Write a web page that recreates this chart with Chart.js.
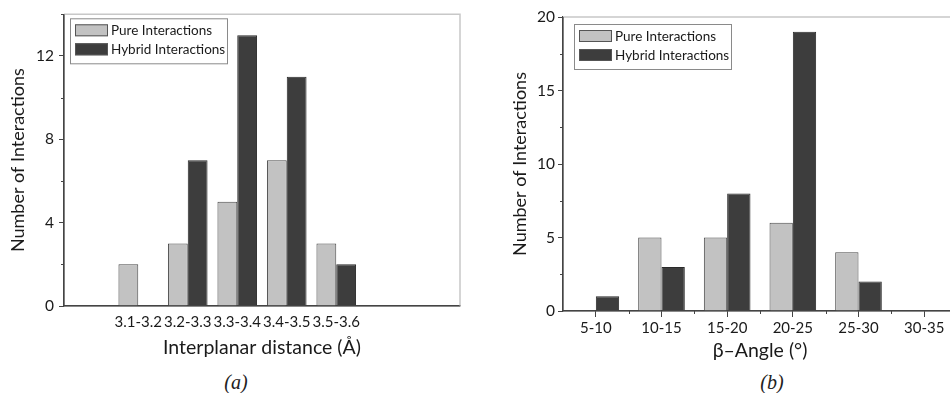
<!DOCTYPE html>
<html>
<head>
<meta charset="utf-8">
<script src="https://cdn.jsdelivr.net/npm/chart.js@4.4.1/dist/chart.umd.min.js"></script>
<style>
  html, body { margin: 0; padding: 0; background: #fff; width: 950px; height: 393px; overflow: hidden; }
  .panel { position: absolute; top: 0; }
  #panelA { left: 0; width: 475px; height: 362px; }
  #panelB { left: 475px; width: 490px; height: 362px; }
  .caption { position: absolute; top: 371px; width: 60px; margin-left: -30px; text-align: center;
    font-family: "Liberation Serif", "DejaVu Serif", serif; font-style: italic; font-size: 20px; color: #222; }
</style>
</head>
<body>
<div class="panel" id="panelA"><canvas id="chartA" width="475" height="362"></canvas></div>
<div class="panel" id="panelB"><canvas id="chartB" width="490" height="362"></canvas></div>
<div class="caption" style="left:236px">(a)</div>
<div class="caption" style="left:772px">(b)</div>
<script>
// panel (a): interplanar distance
const distanceLabels = ["3.1-3.2", "3.2-3.3", "3.3-3.4", "3.4-3.5", "3.5-3.6"];
const distancePure = [2, 3, 5, 7, 3];
const distanceHybrid = [0, 7, 13, 11, 2];
const distanceTicks = [0, 4, 8, 12];
const distanceMinorTicks = [2, 6, 10, 14];

// panel (b): beta angle
const angleLabels = ["5-10", "10-15", "15-20", "20-25", "25-30", "30-35"];
const anglePure = [0, 5, 5, 6, 4, 0];
const angleHybrid = [1, 3, 8, 19, 2, 0];
const angleTicks = [0, 5, 10, 15, 20];
const angleMinorTicks = [2.5, 7.5, 12.5, 17.5];

const seriesNames = ["Pure Interactions", "Hybrid Interactions"];
const FONT = "Lato";
const TEXT = "#1a1a1a";
const AXIS = "#444";

// empty counts are drawn as no bar at all
const orNull = (arr) => arr.map((v) => (v ? v : null));

const makeDatasets = (pure, hybrid) => [
  {
    label: seriesNames[0],
    data: orNull(pure),
    backgroundColor: "#c2c2c2",
    borderColor: "#4a4a4a",
    borderWidth: 1,
  },
  {
    label: seriesNames[1],
    data: orNull(hybrid),
    backgroundColor: "#3d3d3d",
    borderColor: "#2a2a2a",
    borderWidth: 1,
  },
];

// frame, minor ticks and the boxed legend inside the plot
const decorPlugin = {
  id: "decor",
  afterDraw(chart, args, opts) {
    const ctx = chart.ctx;
    const area = chart.chartArea;
    const x = chart.scales.x;
    const y = chart.scales.y;
    ctx.save();

    // light frame on top and right
    ctx.strokeStyle = "#c8c8c8";
    ctx.lineWidth = 1.5;
    ctx.beginPath();
    ctx.moveTo(area.left, area.top);
    ctx.lineTo(area.right, area.top);
    ctx.lineTo(area.right, area.bottom);
    ctx.stroke();

    // axis lines on top of frame
    ctx.strokeStyle = AXIS;
    ctx.lineWidth = 1.2;
    ctx.beginPath();
    ctx.moveTo(area.left, area.top);
    ctx.lineTo(area.left, area.bottom);
    ctx.lineTo(area.right, area.bottom);
    ctx.stroke();

    // minor ticks
    ctx.lineWidth = 1;
    ctx.beginPath();
    for (const v of opts.yMinor || []) {
      const py = Math.round(y.getPixelForValue(v)) + 0.5;
      ctx.moveTo(area.left - 3, py);
      ctx.lineTo(area.left, py);
    }
    if (opts.xBoundaries) {
      for (let i = 0; i < chart.data.labels.length; i++) {
        const px = Math.round((x.getPixelForValue(i) + x.getPixelForValue(i + 1)) / 2) + 0.5;
        ctx.moveTo(px, area.bottom);
        ctx.lineTo(px, area.bottom + 3);
      }
    }
    ctx.stroke();

    // legend
    const lx = area.left + opts.legendDx;
    const ly = area.top + opts.legendDy;
    ctx.fillStyle = "#fff";
    ctx.fillRect(lx, ly, 157, 45);
    ctx.strokeStyle = "#8a8a8a";
    ctx.lineWidth = 1;
    ctx.strokeRect(lx + 0.5, ly + 0.5, 157, 45);
    ctx.font = "13.5px " + FONT;
    ctx.textBaseline = "middle";
    chart.data.datasets.forEach((ds, i) => {
      const sy = ly + 6 + i * 19;
      ctx.fillStyle = ds.backgroundColor;
      ctx.fillRect(lx + 5, sy, 33, 12);
      ctx.strokeStyle = "#555";
      ctx.strokeRect(lx + 5.5, sy + 0.5, 32, 11);
      ctx.fillStyle = TEXT;
      ctx.fillText(ds.label, lx + 41, sy + 6.5);
    });
    ctx.restore();
  },
};

function buildChart(canvasId, cfg) {
  const ctx = document.getElementById(canvasId).getContext("2d");
  return new Chart(ctx, {
    type: "bar",
    data: {
      labels: cfg.labels,
      datasets: makeDatasets(cfg.pure, cfg.hybrid),
    },
    options: {
      responsive: false,
      animation: false,
      layout: { padding: cfg.padding },
      datasets: {
        bar: {
          categoryPercentage: cfg.categoryPercentage,
          barPercentage: 1,
        },
      },
      plugins: {
        legend: { display: false },
        tooltip: { enabled: false },
        decor: {
          yMinor: cfg.yMinor,
          xBoundaries: cfg.xBoundaries,
          legendDx: cfg.legendDx,
          legendDy: cfg.legendDy,
        },
      },
      scales: {
        x: {
          offset: true,
          grid: {
            display: true,
            drawOnChartArea: false,
            drawTicks: cfg.xTicks,
            offset: false,
            tickLength: 6,
            color: AXIS,
          },
          border: { color: AXIS, width: 1.2 },
          ticks: {
            autoSkip: false,
            maxRotation: 0,
            padding: cfg.xLabelPadding,
            color: TEXT,
            font: { family: FONT, size: 15 },
          },
          title: {
            display: true,
            text: cfg.xTitle,
            color: TEXT,
            font: { family: FONT, size: cfg.xTitleSize },
            padding: { top: 0, bottom: cfg.xTitlePad },
          },
          afterFit: (scale) => {
            scale.height = cfg.xHeight;
          },
        },
        y: {
          min: 0,
          max: cfg.yMax,
          grid: {
            drawOnChartArea: false,
            tickLength: 5,
            color: AXIS,
          },
          border: { color: AXIS, width: 1.2 },
          ticks: {
            padding: cfg.yLabelPadding,
            color: TEXT,
            font: { family: FONT, size: 15.5 },
          },
          afterBuildTicks: (scale) => {
            scale.ticks = cfg.yTicks.map((v) => ({ value: v }));
          },
          title: {
            display: true,
            text: "Number of Interactions",
            color: TEXT,
            font: { family: FONT, size: 18 },
            padding: { top: cfg.yTitlePad, bottom: 0 },
          },
          afterFit: (scale) => {
            scale.width = cfg.yWidth;
          },
        },
      },
    },
    plugins: [decorPlugin],
  });
}

// (a) has one empty slot before and two after the measured ranges
buildChart("chartA", {
  labels: ["", ...distanceLabels, "", ""],
  pure: [0, ...distancePure, 0, 0],
  hybrid: [0, ...distanceHybrid, 0, 0],
  yTicks: distanceTicks,
  yMinor: distanceMinorTicks,
  yMax: 14,
  xBoundaries: false,
  xTicks: false,
  xTitle: "Interplanar distance (Å)",
  xTitleSize: 19.5,
  categoryPercentage: 0.8,
  padding: { left: 0, top: 13, right: 15, bottom: 0 },
  yWidth: 64,
  xHeight: 56,
  xLabelPadding: 7,
  yLabelPadding: 5,
  yTitlePad: 7,
  xTitlePad: 3,
  legendDx: 6,
  legendDy: 4,
});

buildChart("chartB", {
  labels: angleLabels,
  pure: anglePure,
  hybrid: angleHybrid,
  yTicks: angleTicks,
  yMinor: angleMinorTicks,
  yMax: 20,
  xBoundaries: true,
  xTicks: true,
  xTitle: "β–Angle (°)",
  xTitleSize: 19.5,
  categoryPercentage: 0.71,
  padding: { left: 0, top: 17, right: 8, bottom: 0 },
  yWidth: 88,
  xHeight: 51,
  xLabelPadding: 2,
  yLabelPadding: 3,
  yTitlePad: 34,
  xTitlePad: 0,
  legendDx: 11,
  legendDy: 7,
});
</script>
</body>
</html>
